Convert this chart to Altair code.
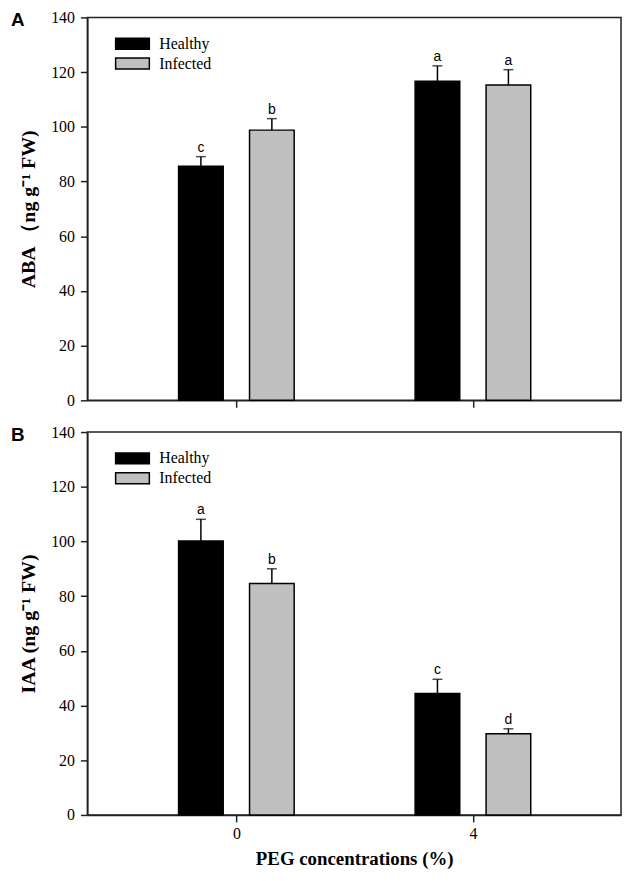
import altair as alt
import pandas as pd

# ---- data ----
conc = [0, 0, 4, 4]
groups = ["Healthy", "Infected", "Healthy", "Infected"]
aba_mean = [85.6, 98.8, 116.7, 115.3]
aba_err = [3.5, 4.2, 5.6, 5.6]
aba_letters = ["c", "b", "a", "a"]
iaa_mean = [100.2, 84.6, 44.4, 29.7]
iaa_err = [7.9, 5.4, 5.2, 1.8]
iaa_letters = ["a", "b", "c", "d"]
y_ticks = [0, 20, 40, 60, 80, 100, 120, 140]
x_ticks = [0, 4]
series = ["Healthy", "Infected"]
colors = ["#000000", "#c0c0c0"]

# ---- layout constants ----
SHIFT = {"Healthy": -0.6, "Infected": 0.6}
X_DOMAIN = [-2.436, 6.42]
W, H = 538, 386
SERIF = "Liberation Serif"
SANS = "Liberation Sans"


def panel(mean, err, letters, ytitle, tag, show_x):
    df = pd.DataFrame({"conc": conc, "group": groups, "mean": mean,
                       "err": err, "letter": letters})
    df["pos"] = df["conc"] + df["group"].map(SHIFT)
    df["top"] = df["mean"] + df["err"]

    xs = alt.Scale(domain=X_DOMAIN, nice=False, zero=False)
    ys = alt.Scale(domain=[0, 140], nice=False)
    xaxis = alt.Axis(values=x_ticks, labels=show_x, format="d",
                     title="PEG concentrations (%)" if show_x else None,
                     tickSize=7, labelPadding=4, titlePadding=8,
                     titleFontSize=19)
    yaxis = alt.Axis(values=y_ticks, title=ytitle, tickSize=7,
                     labelPadding=6, titlePadding=12, titleFontSize=20)

    base = alt.Chart(df)
    bars = base.mark_bar(orient="vertical", size=45, stroke="black",
                         strokeWidth=1.5).encode(
        x=alt.X("pos:Q", scale=xs, axis=xaxis),
        y=alt.Y("mean:Q", scale=ys, axis=yaxis, stack=None),
        fill=alt.Fill("group:N",
                      scale=alt.Scale(domain=series, range=colors),
                      legend=alt.Legend(
                          title=None, orient="none", legendX=34.5,
                          legendY=15.5, padding=0, rowPadding=0,
                          symbolType="M-1.7,-0.55H1.7V0.55H-1.7Z",
                          symbolSize=400, symbolStrokeColor="black",
                          symbolStrokeWidth=1.5, symbolOpacity=1,
                          labelFont=SERIF, labelFontSize=16,
                          labelColor="black", labelOffset=16)),
    )
    rules = base.mark_rule(color="black", strokeWidth=1.5).encode(
        x="pos:Q", y="mean:Q", y2="top:Q")
    caps = base.mark_tick(orient="horizontal", size=10, thickness=1.5,
                          color="black").encode(x="pos:Q", y="top:Q")
    txt = base.mark_text(dy=-9, font=SANS, fontSize=14,
                         color="black").encode(
        x="pos:Q", y="top:Q", text="letter:N")
    lab = alt.Chart(pd.DataFrame({"t": [tag]})).mark_text(
        align="left", baseline="middle", font=SANS, fontSize=19,
        fontWeight="bold", color="black").encode(
        text="t:N", x=alt.value(-77), y=alt.value(3))
    return alt.layer(bars, rules, caps, txt, lab).properties(width=W, height=H)


top = panel(aba_mean, aba_err, aba_letters, "ABA （ng g⁻¹ FW)", "A", False)
bottom = panel(iaa_mean, iaa_err, iaa_letters, "IAA (ng g⁻¹ FW)", "B", True)

chart = alt.vconcat(top, bottom, spacing=14).resolve_scale(
    fill="independent").resolve_legend(fill="independent").properties(
    padding={"left": 2, "top": -3, "right": 0, "bottom": 0}
).configure_view(stroke="#222222", strokeWidth=1.5).configure_axis(
    grid=False, domainColor="#222222", domainWidth=1.5, tickColor="#222222",
    tickWidth=1.5, labelFont=SERIF, labelFontSize=16, labelColor="black",
    titleFont=SERIF, titleFontSize=19, titleFontWeight="bold",
    titleColor="black")

chart.save("out.html", embed_options={"renderer": "svg", "actions": False})
